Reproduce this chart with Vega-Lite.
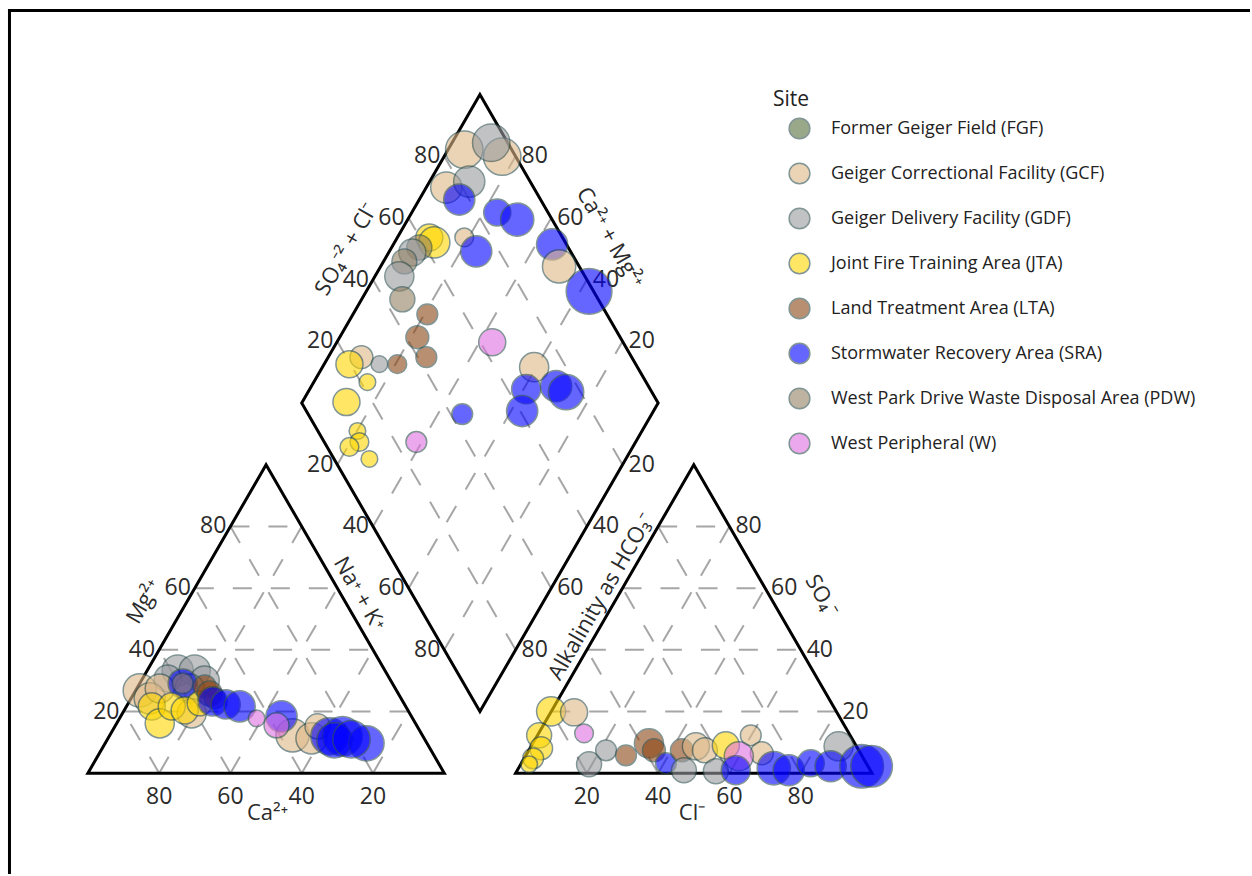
{
  "$schema": "https://vega.github.io/schema/vega-lite/v6.json",
  "width": 1252,
  "height": 876,
  "autosize": {"type": "fit", "contains": "padding"},
  "padding": 0,
  "background": "white",
  "config": {
    "view": {"stroke": null},
    "font": "Open Sans",
    "legend": {
      "orient": "none",
      "legendX": 773,
      "legendY": 89,
      "padding": 0,
      "titleFontSize": 21,
      "titleFont": "Open Sans",
      "titleFontWeight": "normal",
      "titleColor": "#222",
      "titlePadding": 7,
      "labelFontSize": 18,
      "labelFont": "Open Sans",
      "labelColor": "#222",
      "labelLimit": 0,
      "symbolType": "circle",
      "symbolSize": 430,
      "symbolOffset": 15,
      "labelOffset": 20,
      "rowPadding": 18,
      "symbolOpacity": 0.6,
      "symbolStrokeColor": "#2f4f4f",
      "symbolStrokeWidth": 1.5
    }
  },
  "datasets": {
    "outline": [
      {"shape": "cation", "i": 0, "x": 0, "y": 0},
      {"shape": "cation", "i": 1, "x": 100, "y": 0},
      {"shape": "cation", "i": 2, "x": 50, "y": 86.6},
      {"shape": "anion", "i": 0, "x": 120, "y": 0},
      {"shape": "anion", "i": 1, "x": 220, "y": 0},
      {"shape": "anion", "i": 2, "x": 170, "y": 86.6},
      {"shape": "diamond", "i": 0, "x": 110, "y": 17.32},
      {"shape": "diamond", "i": 1, "x": 160, "y": 103.92},
      {"shape": "diamond", "i": 2, "x": 110, "y": 190.53},
      {"shape": "diamond", "i": 3, "x": 60, "y": 103.92}
    ],
    "grid": [
      {"x": 10, "y": 17.32, "x2": 90, "y2": 17.32},
      {"x": 20, "y": 34.64, "x2": 80, "y2": 34.64},
      {"x": 30, "y": 51.96, "x2": 70, "y2": 51.96},
      {"x": 40, "y": 69.28, "x2": 60, "y2": 69.28},
      {"x": 20, "y": 0, "x2": 60, "y2": 69.28},
      {"x": 40, "y": 0, "x2": 70, "y2": 51.96},
      {"x": 60, "y": 0, "x2": 80, "y2": 34.64},
      {"x": 80, "y": 0, "x2": 90, "y2": 17.32},
      {"x": 20, "y": 0, "x2": 10, "y2": 17.32},
      {"x": 40, "y": 0, "x2": 20, "y2": 34.64},
      {"x": 60, "y": 0, "x2": 30, "y2": 51.96},
      {"x": 80, "y": 0, "x2": 40, "y2": 69.28},
      {"x": 130, "y": 17.32, "x2": 210, "y2": 17.32},
      {"x": 140, "y": 34.64, "x2": 200, "y2": 34.64},
      {"x": 150, "y": 51.96, "x2": 190, "y2": 51.96},
      {"x": 160, "y": 69.28, "x2": 180, "y2": 69.28},
      {"x": 140, "y": 0, "x2": 180, "y2": 69.28},
      {"x": 160, "y": 0, "x2": 190, "y2": 51.96},
      {"x": 180, "y": 0, "x2": 200, "y2": 34.64},
      {"x": 200, "y": 0, "x2": 210, "y2": 17.32},
      {"x": 140, "y": 0, "x2": 130, "y2": 17.32},
      {"x": 160, "y": 0, "x2": 140, "y2": 34.64},
      {"x": 180, "y": 0, "x2": 150, "y2": 51.96},
      {"x": 200, "y": 0, "x2": 160, "y2": 69.28},
      {"x": 120, "y": 34.64, "x2": 70, "y2": 121.24},
      {"x": 130, "y": 51.96, "x2": 80, "y2": 138.56},
      {"x": 140, "y": 69.28, "x2": 90, "y2": 155.88},
      {"x": 150, "y": 86.6, "x2": 100, "y2": 173.2},
      {"x": 100, "y": 34.64, "x2": 150, "y2": 121.24},
      {"x": 90, "y": 51.96, "x2": 140, "y2": 138.56},
      {"x": 80, "y": 69.28, "x2": 130, "y2": 155.88},
      {"x": 70, "y": 86.6, "x2": 120, "y2": 173.2}
    ],
    "pts": [
      {"panel": "cation", "site": "Geiger Delivery Facility (GDF)", "x": 25.2, "y": 28.85, "TDS": 600},
      {"panel": "cation", "site": "Geiger Delivery Facility (GDF)", "x": 29.97, "y": 28.85, "TDS": 600},
      {"panel": "cation", "site": "Geiger Delivery Facility (GDF)", "x": 32.77, "y": 26.05, "TDS": 560},
      {"panel": "cation", "site": "Geiger Delivery Facility (GDF)", "x": 22.41, "y": 26.61, "TDS": 520},
      {"panel": "cation", "site": "Geiger Delivery Facility (GDF)", "x": 28.57, "y": 23.81, "TDS": 560},
      {"panel": "cation", "site": "Geiger Correctional Facility (GCF)", "x": 14.57, "y": 23.25, "TDS": 640},
      {"panel": "cation", "site": "Geiger Correctional Facility (GCF)", "x": 17.37, "y": 21.01, "TDS": 600},
      {"panel": "cation", "site": "Geiger Correctional Facility (GCF)", "x": 20.17, "y": 23.81, "TDS": 560},
      {"panel": "cation", "site": "Geiger Correctional Facility (GCF)", "x": 29.13, "y": 16.81, "TDS": 560},
      {"panel": "cation", "site": "Geiger Correctional Facility (GCF)", "x": 57.42, "y": 10.64, "TDS": 640},
      {"panel": "cation", "site": "Geiger Correctional Facility (GCF)", "x": 62.75, "y": 9.8, "TDS": 600},
      {"panel": "cation", "site": "Geiger Correctional Facility (GCF)", "x": 64.43, "y": 13.17, "TDS": 480},
      {"panel": "cation", "site": "Stormwater Recovery Area (SRA)", "x": 26.61, "y": 25.21, "TDS": 560},
      {"panel": "cation", "site": "West Park Drive Waste Disposal Area (PDW)", "x": 26.61, "y": 25.21, "TDS": 400},
      {"panel": "cation", "site": "Joint Fire Training Area (JTA)", "x": 17.93, "y": 18.77, "TDS": 520},
      {"panel": "cation", "site": "Joint Fire Training Area (JTA)", "x": 20.17, "y": 14.01, "TDS": 560},
      {"panel": "cation", "site": "Joint Fire Training Area (JTA)", "x": 23.53, "y": 18.77, "TDS": 520},
      {"panel": "cation", "site": "Joint Fire Training Area (JTA)", "x": 27.17, "y": 17.65, "TDS": 520},
      {"panel": "cation", "site": "Joint Fire Training Area (JTA)", "x": 31.37, "y": 19.61, "TDS": 480},
      {"panel": "cation", "site": "Land Treatment Area (LTA)", "x": 32.77, "y": 24.37, "TDS": 440},
      {"panel": "cation", "site": "Land Treatment Area (LTA)", "x": 34.17, "y": 22.41, "TDS": 480},
      {"panel": "cation", "site": "Land Treatment Area (LTA)", "x": 35.57, "y": 21.01, "TDS": 400},
      {"panel": "cation", "site": "Stormwater Recovery Area (SRA)", "x": 35.01, "y": 20.17, "TDS": 560},
      {"panel": "cation", "site": "Stormwater Recovery Area (SRA)", "x": 38.66, "y": 19.33, "TDS": 560},
      {"panel": "cation", "site": "Stormwater Recovery Area (SRA)", "x": 42.58, "y": 18.77, "TDS": 600},
      {"panel": "cation", "site": "Stormwater Recovery Area (SRA)", "x": 54.34, "y": 15.97, "TDS": 600},
      {"panel": "cation", "site": "Stormwater Recovery Area (SRA)", "x": 67.79, "y": 10.36, "TDS": 720},
      {"panel": "cation", "site": "Stormwater Recovery Area (SRA)", "x": 71.43, "y": 10.36, "TDS": 760},
      {"panel": "cation", "site": "Stormwater Recovery Area (SRA)", "x": 69.19, "y": 9.24, "TDS": 680},
      {"panel": "cation", "site": "Stormwater Recovery Area (SRA)", "x": 78.15, "y": 8.4, "TDS": 680},
      {"panel": "cation", "site": "Stormwater Recovery Area (SRA)", "x": 73.95, "y": 9.52, "TDS": 720},
      {"panel": "cation", "site": "West Peripheral (W)", "x": 47.34, "y": 15.41, "TDS": 320},
      {"panel": "cation", "site": "West Peripheral (W)", "x": 52.94, "y": 13.45, "TDS": 480},
      {"panel": "anion", "site": "Joint Fire Training Area (JTA)", "x": 129.97, "y": 17.37, "TDS": 560},
      {"panel": "anion", "site": "Joint Fire Training Area (JTA)", "x": 126.61, "y": 10.64, "TDS": 480},
      {"panel": "anion", "site": "Joint Fire Training Area (JTA)", "x": 127.17, "y": 7.0, "TDS": 440},
      {"panel": "anion", "site": "Joint Fire Training Area (JTA)", "x": 124.93, "y": 4.2, "TDS": 400},
      {"panel": "anion", "site": "Joint Fire Training Area (JTA)", "x": 123.81, "y": 2.52, "TDS": 320},
      {"panel": "anion", "site": "Geiger Correctional Facility (GCF)", "x": 136.41, "y": 17.09, "TDS": 520},
      {"panel": "anion", "site": "West Peripheral (W)", "x": 139.22, "y": 11.2, "TDS": 360},
      {"panel": "anion", "site": "Geiger Delivery Facility (GDF)", "x": 140.62, "y": 2.52, "TDS": 480},
      {"panel": "anion", "site": "Geiger Delivery Facility (GDF)", "x": 145.38, "y": 6.44, "TDS": 400},
      {"panel": "anion", "site": "Land Treatment Area (LTA)", "x": 150.98, "y": 5.04, "TDS": 400},
      {"panel": "anion", "site": "Land Treatment Area (LTA)", "x": 157.42, "y": 8.4, "TDS": 560},
      {"panel": "anion", "site": "Land Treatment Area (LTA)", "x": 158.82, "y": 6.44, "TDS": 440},
      {"panel": "anion", "site": "Stormwater Recovery Area (SRA)", "x": 162.18, "y": 2.8, "TDS": 400},
      {"panel": "anion", "site": "Land Treatment Area (LTA)", "x": 166.67, "y": 6.44, "TDS": 440},
      {"panel": "anion", "site": "Geiger Correctional Facility (GCF)", "x": 170.59, "y": 7.56, "TDS": 520},
      {"panel": "anion", "site": "Geiger Correctional Facility (GCF)", "x": 173.11, "y": 6.44, "TDS": 480},
      {"panel": "anion", "site": "Geiger Correctional Facility (GCF)", "x": 185.99, "y": 10.64, "TDS": 400},
      {"panel": "anion", "site": "Geiger Correctional Facility (GCF)", "x": 189.08, "y": 5.6, "TDS": 440},
      {"panel": "anion", "site": "Geiger Delivery Facility (GDF)", "x": 167.23, "y": 0.84, "TDS": 480},
      {"panel": "anion", "site": "Geiger Delivery Facility (GDF)", "x": 176.19, "y": 0.56, "TDS": 480},
      {"panel": "anion", "site": "Joint Fire Training Area (JTA)", "x": 178.99, "y": 7.84, "TDS": 520},
      {"panel": "anion", "site": "West Peripheral (W)", "x": 182.63, "y": 4.76, "TDS": 560},
      {"panel": "anion", "site": "Stormwater Recovery Area (SRA)", "x": 181.79, "y": 0.84, "TDS": 560},
      {"panel": "anion", "site": "Stormwater Recovery Area (SRA)", "x": 192.44, "y": 1.4, "TDS": 640},
      {"panel": "anion", "site": "Stormwater Recovery Area (SRA)", "x": 196.64, "y": 0.84, "TDS": 600},
      {"panel": "anion", "site": "Stormwater Recovery Area (SRA)", "x": 202.8, "y": 2.8, "TDS": 520},
      {"panel": "anion", "site": "Geiger Delivery Facility (GDF)", "x": 210.64, "y": 7.56, "TDS": 560},
      {"panel": "anion", "site": "Stormwater Recovery Area (SRA)", "x": 208.4, "y": 1.96, "TDS": 600},
      {"panel": "anion", "site": "Stormwater Recovery Area (SRA)", "x": 217.09, "y": 1.96, "TDS": 840},
      {"panel": "anion", "site": "Stormwater Recovery Area (SRA)", "x": 219.89, "y": 1.96, "TDS": 800},
      {"panel": "diamond", "site": "Geiger Correctional Facility (GCF)", "x": 105.6, "y": 175.07, "TDS": 720},
      {"panel": "diamond", "site": "Geiger Correctional Facility (GCF)", "x": 116.25, "y": 173.11, "TDS": 720},
      {"panel": "diamond", "site": "Geiger Delivery Facility (GDF)", "x": 113.17, "y": 177.03, "TDS": 720},
      {"panel": "diamond", "site": "Geiger Correctional Facility (GCF)", "x": 100.56, "y": 164.43, "TDS": 600},
      {"panel": "diamond", "site": "Geiger Delivery Facility (GDF)", "x": 107.0, "y": 166.11, "TDS": 600},
      {"panel": "diamond", "site": "Stormwater Recovery Area (SRA)", "x": 104.2, "y": 161.06, "TDS": 600},
      {"panel": "diamond", "site": "Stormwater Recovery Area (SRA)", "x": 114.85, "y": 157.42, "TDS": 520},
      {"panel": "diamond", "site": "Stormwater Recovery Area (SRA)", "x": 120.45, "y": 155.46, "TDS": 640},
      {"panel": "diamond", "site": "Geiger Correctional Facility (GCF)", "x": 105.6, "y": 150.42, "TDS": 360},
      {"panel": "diamond", "site": "Joint Fire Training Area (JTA)", "x": 95.8, "y": 150.42, "TDS": 520},
      {"panel": "diamond", "site": "Joint Fire Training Area (JTA)", "x": 97.2, "y": 149.02, "TDS": 600},
      {"panel": "diamond", "site": "West Park Drive Waste Disposal Area (PDW)", "x": 93.0, "y": 147.62, "TDS": 480},
      {"panel": "diamond", "site": "Geiger Delivery Facility (GDF)", "x": 91.04, "y": 146.22, "TDS": 520},
      {"panel": "diamond", "site": "West Park Drive Waste Disposal Area (PDW)", "x": 88.8, "y": 143.7, "TDS": 480},
      {"panel": "diamond", "site": "Geiger Delivery Facility (GDF)", "x": 87.39, "y": 139.5, "TDS": 560},
      {"panel": "diamond", "site": "West Park Drive Waste Disposal Area (PDW)", "x": 88.24, "y": 133.05, "TDS": 480},
      {"panel": "diamond", "site": "Stormwater Recovery Area (SRA)", "x": 108.96, "y": 146.5, "TDS": 600},
      {"panel": "diamond", "site": "Stormwater Recovery Area (SRA)", "x": 130.25, "y": 148.46, "TDS": 600},
      {"panel": "diamond", "site": "Geiger Correctional Facility (GCF)", "x": 132.21, "y": 142.3, "TDS": 640},
      {"panel": "diamond", "site": "Stormwater Recovery Area (SRA)", "x": 140.62, "y": 135.29, "TDS": 880},
      {"panel": "diamond", "site": "Land Treatment Area (LTA)", "x": 95.24, "y": 128.85, "TDS": 400},
      {"panel": "diamond", "site": "Land Treatment Area (LTA)", "x": 92.44, "y": 122.41, "TDS": 440},
      {"panel": "diamond", "site": "Land Treatment Area (LTA)", "x": 94.96, "y": 116.81, "TDS": 400},
      {"panel": "diamond", "site": "Land Treatment Area (LTA)", "x": 86.83, "y": 114.85, "TDS": 360},
      {"panel": "diamond", "site": "Geiger Delivery Facility (GDF)", "x": 81.79, "y": 114.85, "TDS": 320},
      {"panel": "diamond", "site": "Geiger Correctional Facility (GCF)", "x": 76.75, "y": 116.81, "TDS": 440},
      {"panel": "diamond", "site": "Joint Fire Training Area (JTA)", "x": 73.39, "y": 114.85, "TDS": 520},
      {"panel": "diamond", "site": "Joint Fire Training Area (JTA)", "x": 78.43, "y": 109.8, "TDS": 320},
      {"panel": "diamond", "site": "Joint Fire Training Area (JTA)", "x": 72.55, "y": 104.2, "TDS": 520},
      {"panel": "diamond", "site": "West Peripheral (W)", "x": 113.45, "y": 121.01, "TDS": 520},
      {"panel": "diamond", "site": "Geiger Correctional Facility (GCF)", "x": 125.21, "y": 114.01, "TDS": 560},
      {"panel": "diamond", "site": "Stormwater Recovery Area (SRA)", "x": 122.97, "y": 107.84, "TDS": 560},
      {"panel": "diamond", "site": "Stormwater Recovery Area (SRA)", "x": 131.37, "y": 108.68, "TDS": 600},
      {"panel": "diamond", "site": "Stormwater Recovery Area (SRA)", "x": 134.17, "y": 107.0, "TDS": 680},
      {"panel": "diamond", "site": "Stormwater Recovery Area (SRA)", "x": 121.85, "y": 101.68, "TDS": 600},
      {"panel": "diamond", "site": "Stormwater Recovery Area (SRA)", "x": 105.04, "y": 100.84, "TDS": 400},
      {"panel": "diamond", "site": "Joint Fire Training Area (JTA)", "x": 75.63, "y": 96.08, "TDS": 320},
      {"panel": "diamond", "site": "Joint Fire Training Area (JTA)", "x": 76.19, "y": 93.0, "TDS": 360},
      {"panel": "diamond", "site": "Joint Fire Training Area (JTA)", "x": 73.39, "y": 91.6, "TDS": 360},
      {"panel": "diamond", "site": "Joint Fire Training Area (JTA)", "x": 78.99, "y": 88.24, "TDS": 320},
      {"panel": "diamond", "site": "West Peripheral (W)", "x": 92.16, "y": 93.0, "TDS": 400}
    ]
  },
  "layer": [
    {
      "data": {"values": [{}]},
      "mark": {"type": "rule", "color": "black", "strokeWidth": 3},
      "encoding": {
        "x": {"datum": -21.99, "type": "quantitative", "scale": {"domain": [-24.65, 326.05], "nice": false, "zero": false}, "axis": null},
        "y": {"datum": 214.57, "type": "quantitative", "scale": {"domain": [-28.29, 217.09], "nice": false, "zero": false}, "axis": null},
        "y2": {"datum": -28.29}
      }
    },
    {
      "data": {"values": [{}]},
      "mark": {"type": "rule", "color": "black", "strokeWidth": 3},
      "encoding": {
        "x": {"datum": -22.41, "type": "quantitative", "scale": {"domain": [-24.65, 326.05], "nice": false, "zero": false}, "axis": null},
        "x2": {"datum": 326.05},
        "y": {"datum": 214.15, "type": "quantitative", "scale": {"domain": [-28.29, 217.09], "nice": false, "zero": false}, "axis": null}
      }
    },
    {
      "data": {"name": "grid"},
      "mark": {"type": "rule", "color": "#a6a6a6", "strokeWidth": 2, "strokeDash": [19, 19]},
      "encoding": {
        "x": {"field": "x", "type": "quantitative", "scale": {"domain": [-24.65, 326.05], "nice": false, "zero": false}, "axis": null},
        "x2": {"field": "x2"},
        "y": {"field": "y", "type": "quantitative", "scale": {"domain": [-28.29, 217.09], "nice": false, "zero": false}, "axis": null},
        "y2": {"field": "y2"}
      }
    },
    {
      "data": {"name": "outline"},
      "mark": {"type": "line", "interpolate": "linear-closed", "color": "black", "strokeWidth": 3, "strokeJoin": "miter"},
      "encoding": {
        "x": {"field": "x", "type": "quantitative", "scale": {"domain": [-24.65, 326.05], "nice": false, "zero": false}, "axis": null},
        "y": {"field": "y", "type": "quantitative", "scale": {"domain": [-28.29, 217.09], "nice": false, "zero": false}, "axis": null},
        "detail": {"field": "shape"},
        "order": {"field": "i", "type": "quantitative"}
      }
    },
    {
      "data": {"values": [
        {"x": 10, "y": 17.32, "text": "20"},
        {"x": 20, "y": 34.64, "text": "40"},
        {"x": 30, "y": 51.96, "text": "60"},
        {"x": 40, "y": 69.28, "text": "80"},
        {"x": 70, "y": 86.6, "text": "20"},
        {"x": 80, "y": 69.28, "text": "40"},
        {"x": 90, "y": 51.96, "text": "60"},
        {"x": 100, "y": 34.64, "text": "80"},
        {"x": 70, "y": 121.24, "text": "20"},
        {"x": 80, "y": 138.56, "text": "40"},
        {"x": 90, "y": 155.88, "text": "60"},
        {"x": 100, "y": 173.2, "text": "80"}
      ]},
      "mark": {"type": "text", "align": "right", "baseline": "middle", "dx": -4, "fontSize": 23, "color": "#2b2b2b", "font": "Open Sans"},
      "encoding": {
        "x": {"field": "x", "type": "quantitative", "scale": {"domain": [-24.65, 326.05], "nice": false, "zero": false}, "axis": null},
        "y": {"field": "y", "type": "quantitative", "scale": {"domain": [-28.29, 217.09], "nice": false, "zero": false}, "axis": null},
        "text": {"field": "text"}
      }
    },
    {
      "data": {"values": [
        {"x": 150, "y": 121.24, "text": "20"},
        {"x": 140, "y": 138.56, "text": "40"},
        {"x": 130, "y": 155.88, "text": "60"},
        {"x": 120, "y": 173.2, "text": "80"},
        {"x": 150, "y": 86.6, "text": "20"},
        {"x": 140, "y": 69.28, "text": "40"},
        {"x": 130, "y": 51.96, "text": "60"},
        {"x": 120, "y": 34.64, "text": "80"},
        {"x": 210, "y": 17.32, "text": "20"},
        {"x": 200, "y": 34.64, "text": "40"},
        {"x": 190, "y": 51.96, "text": "60"},
        {"x": 180, "y": 69.28, "text": "80"}
      ]},
      "mark": {"type": "text", "align": "left", "baseline": "middle", "dx": 6, "fontSize": 23, "color": "#2b2b2b", "font": "Open Sans"},
      "encoding": {
        "x": {"field": "x", "type": "quantitative", "scale": {"domain": [-24.65, 326.05], "nice": false, "zero": false}, "axis": null},
        "y": {"field": "y", "type": "quantitative", "scale": {"domain": [-28.29, 217.09], "nice": false, "zero": false}, "axis": null},
        "text": {"field": "text"}
      }
    },
    {
      "data": {"values": [
        {"x": 20, "y": 0, "text": "80"},
        {"x": 40, "y": 0, "text": "60"},
        {"x": 60, "y": 0, "text": "40"},
        {"x": 80, "y": 0, "text": "20"},
        {"x": 140, "y": 0, "text": "20"},
        {"x": 160, "y": 0, "text": "40"},
        {"x": 180, "y": 0, "text": "60"},
        {"x": 200, "y": 0, "text": "80"}
      ]},
      "mark": {"type": "text", "align": "center", "baseline": "middle", "dy": 24, "fontSize": 23, "color": "#2b2b2b", "font": "Open Sans"},
      "encoding": {
        "x": {"field": "x", "type": "quantitative", "scale": {"domain": [-24.65, 326.05], "nice": false, "zero": false}, "axis": null},
        "y": {"field": "y", "type": "quantitative", "scale": {"domain": [-28.29, 217.09], "nice": false, "zero": false}, "axis": null},
        "text": {"field": "text"}
      }
    },
    {
      "data": {"values": [
        {"x": 15.7, "y": 48.2, "text": "Mg²⁺"},
        {"x": 72.5, "y": 147.1, "text": "SO₄⁻² + Cl⁻"},
        {"x": 144, "y": 49.6, "text": "Alkalinity as HCO₃⁻"}
      ]},
      "mark": {"type": "text", "align": "center", "baseline": "middle", "angle": 300, "fontSize": 22, "color": "#2b2b2b", "font": "Open Sans"},
      "encoding": {
        "x": {"field": "x", "type": "quantitative", "scale": {"domain": [-24.65, 326.05], "nice": false, "zero": false}, "axis": null},
        "y": {"field": "y", "type": "quantitative", "scale": {"domain": [-28.29, 217.09], "nice": false, "zero": false}, "axis": null},
        "text": {"field": "text"}
      }
    },
    {
      "data": {"values": [
        {"x": 146.5, "y": 150.4, "text": "Ca²⁺ + Mg²⁺"},
        {"x": 76.2, "y": 50.4, "text": "Na⁺ + K⁺"},
        {"x": 205.9, "y": 49.9, "text": "SO₄⁻"}
      ]},
      "mark": {"type": "text", "align": "center", "baseline": "middle", "angle": 60, "fontSize": 22, "color": "#2b2b2b", "font": "Open Sans"},
      "encoding": {
        "x": {"field": "x", "type": "quantitative", "scale": {"domain": [-24.65, 326.05], "nice": false, "zero": false}, "axis": null},
        "y": {"field": "y", "type": "quantitative", "scale": {"domain": [-28.29, 217.09], "nice": false, "zero": false}, "axis": null},
        "text": {"field": "text"}
      }
    },
    {
      "data": {"values": [
        {"x": 50.4, "y": -11.2, "text": "Ca²⁺"},
        {"x": 169.5, "y": -11.2, "text": "Cl⁻"}
      ]},
      "mark": {"type": "text", "align": "center", "baseline": "middle", "fontSize": 22, "color": "#2b2b2b", "font": "Open Sans"},
      "encoding": {
        "x": {"field": "x", "type": "quantitative", "scale": {"domain": [-24.65, 326.05], "nice": false, "zero": false}, "axis": null},
        "y": {"field": "y", "type": "quantitative", "scale": {"domain": [-28.29, 217.09], "nice": false, "zero": false}, "axis": null},
        "text": {"field": "text"}
      }
    },
    {
      "data": {"name": "pts"},
      "mark": {"type": "circle", "opacity": 0.6, "stroke": "#2f4f4f", "strokeWidth": 1.5},
      "encoding": {
        "x": {"field": "x", "type": "quantitative", "scale": {"domain": [-24.65, 326.05], "nice": false, "zero": false}, "axis": null},
        "y": {"field": "y", "type": "quantitative", "scale": {"domain": [-28.29, 217.09], "nice": false, "zero": false}, "axis": null},
        "color": {
          "field": "site",
          "type": "nominal",
          "title": "Site",
          "scale": {
            "domain": [
              "Former Geiger Field (FGF)",
              "Geiger Correctional Facility (GCF)",
              "Geiger Delivery Facility (GDF)",
              "Joint Fire Training Area (JTA)",
              "Land Treatment Area (LTA)",
              "Stormwater Recovery Area (SRA)",
              "West Park Drive Waste Disposal Area (PDW)",
              "West Peripheral (W)"
            ],
            "range": ["#55703a", "#deb887", "#979a9e", "#ffd700", "#8b4513", "#0000ff", "#938062", "#e070e0"]
          }
        },
        "size": {"field": "TDS", "type": "quantitative", "legend": null, "scale": {"type": "pow", "exponent": 2, "domain": [0, 1000], "range": [0, 2700]}}
      }
    }
  ]
}
